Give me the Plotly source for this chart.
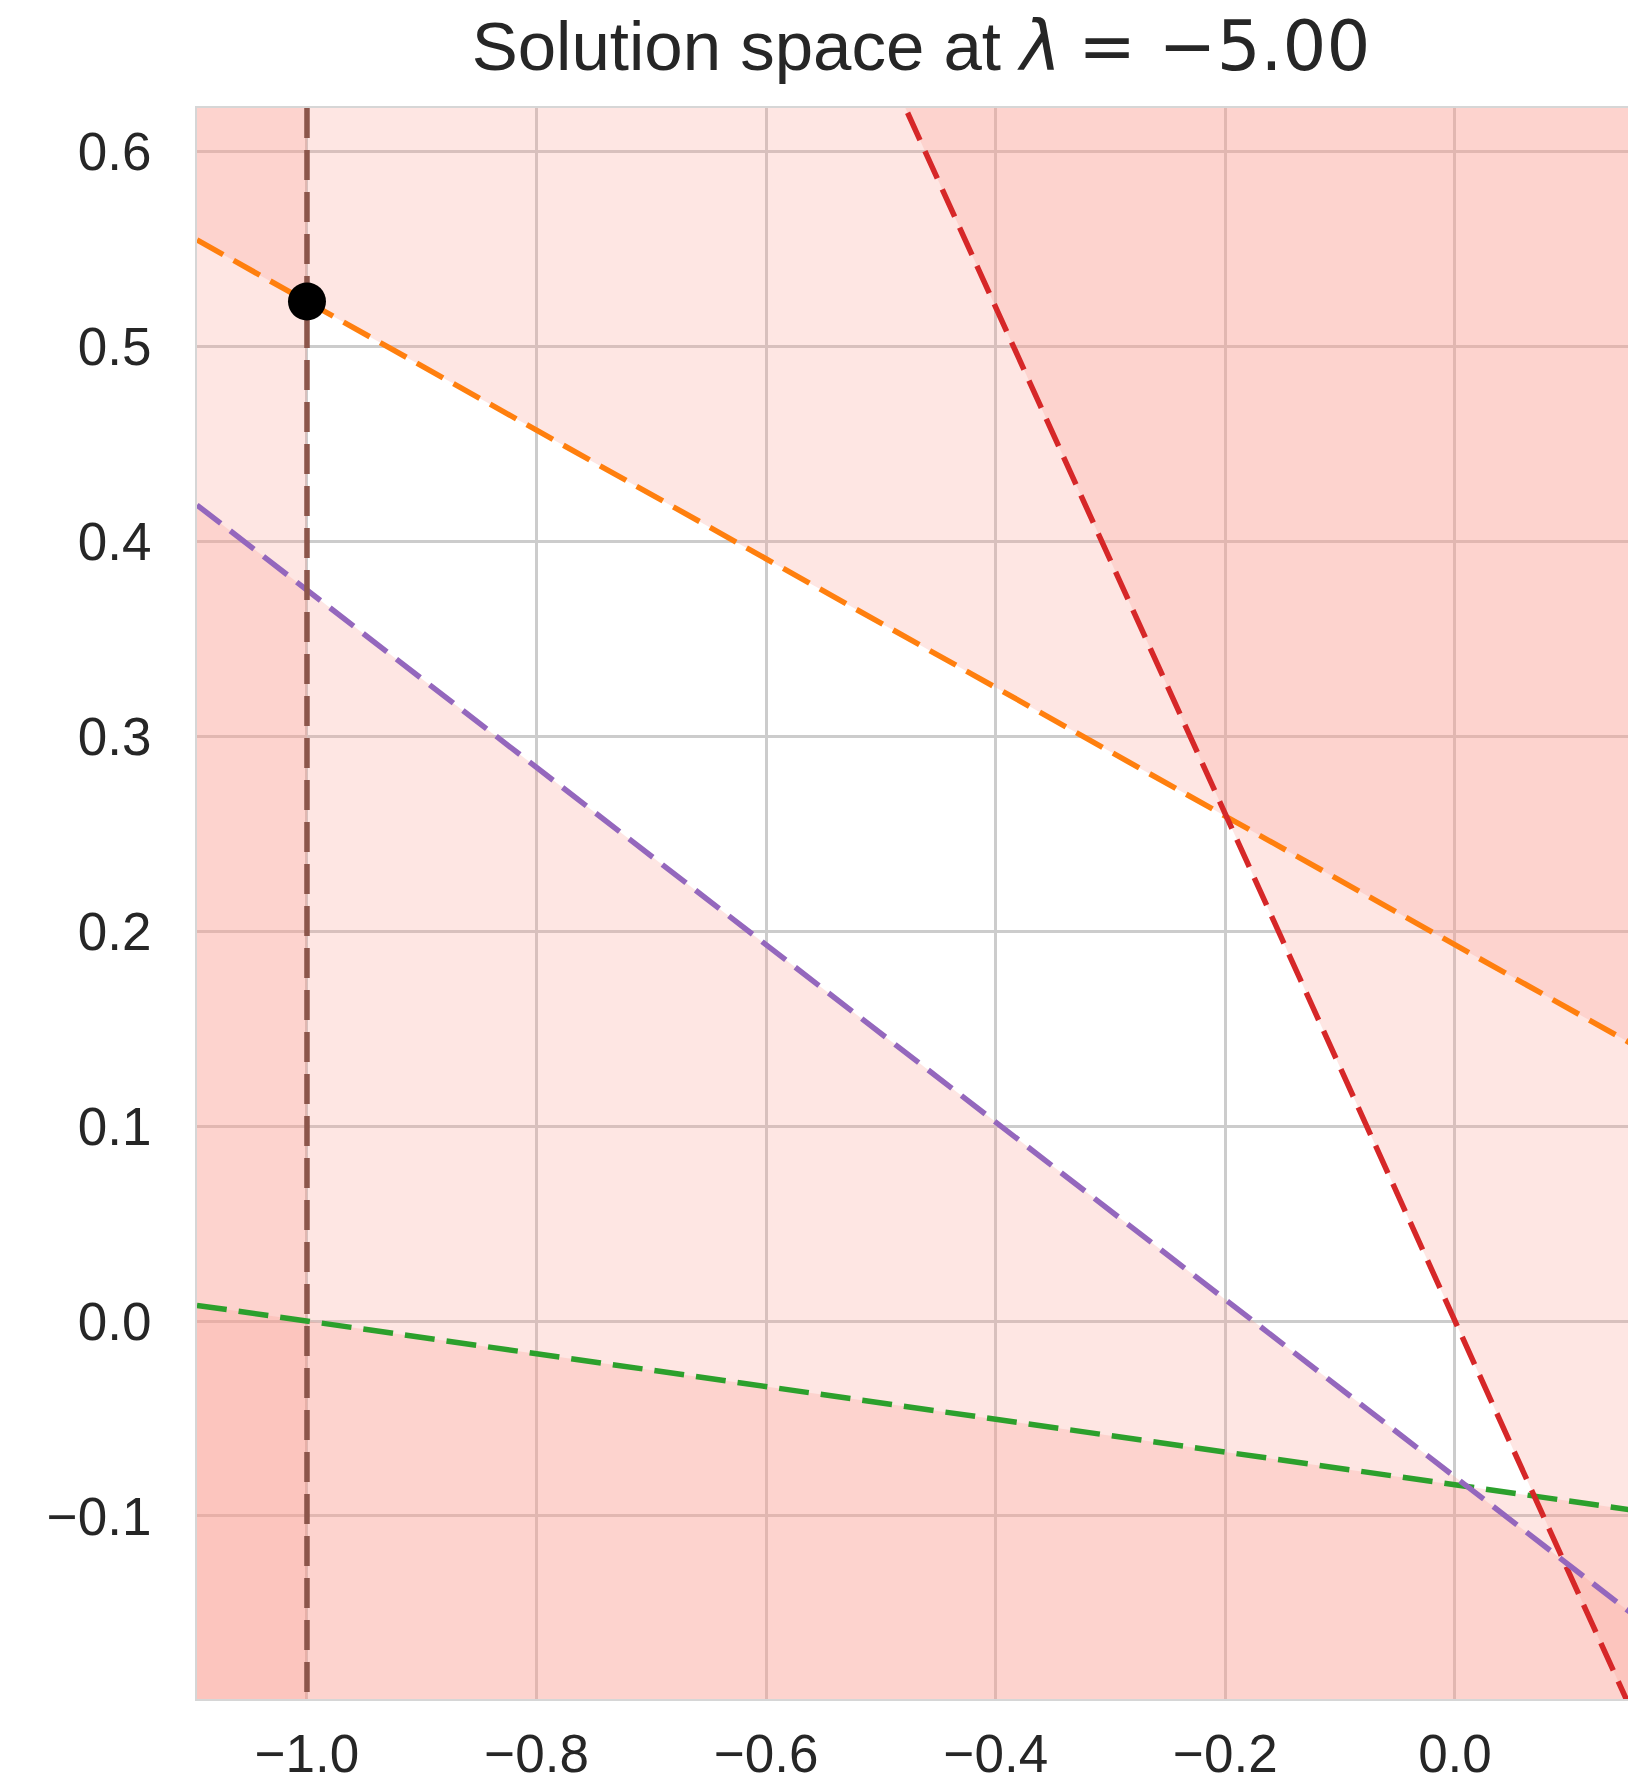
import plotly.graph_objects as go

# ---- data ----
title_text = ('Solution space at <span style="font-family:DejaVu Sans">'
              '<i>λ</i>\u2005=\u2004−5.00</span>')
x_ticks = [-1.0, -0.8, -0.6, -0.4, -0.2, 0.0]
y_ticks = [-0.1, 0.0, 0.1, 0.2, 0.3, 0.4, 0.5, 0.6]

# constraint boundary lines y = m*x + b
line_names = ["orange", "green", "red", "purple"]
line_slopes = [-0.33, -0.084, -1.30, -0.455]
line_intercepts = [0.193, -0.084, 0.0, -0.080]
line_shade_side = ["above", "below", "above", "below"]
line_colors = ["#ff7f0e", "#2ca02c", "#d62728", "#9467bd"]

# vertical constraint x = -1 (left side infeasible)
vertical_x = -1.0
vertical_color = "#8c564b"

# optimum point
point_x = [-1.0]
point_y = [0.523]

x_range = [-1.0958, 0.1507]
y_range = [-0.1939, 0.6223]

# ---- styling ----
FILL = "rgba(250,155,143,0.25)"
FAR_X = [-3.0, 2.0]
FAR_Y = [-3.0, 3.0]
DASH = "30px,12px"
LW = 5.5
FONT = "Liberation Sans, Arial, sans-serif"
TXT = "#262626"

W, H = 1628, 1782

fig = go.Figure()

# infeasible half-planes
# vertical: x < vertical_x
fig.add_trace(go.Scatter(
    x=[FAR_X[0], vertical_x, vertical_x, FAR_X[0]],
    y=[FAR_Y[0], FAR_Y[0], FAR_Y[1], FAR_Y[1]],
    fill="toself", fillcolor=FILL, mode="lines", line=dict(width=0),
    hoverinfo="skip", showlegend=False))

for m, b, side in zip(line_slopes, line_intercepts, line_shade_side):
    x0, x1 = FAR_X
    y0, y1 = m * x0 + b, m * x1 + b
    yc = FAR_Y[1] * 3 if side == "above" else FAR_Y[0] * 3
    fig.add_trace(go.Scatter(
        x=[x0, x1, x1, x0], y=[y0, y1, yc, yc],
        fill="toself", fillcolor=FILL, mode="lines", line=dict(width=0),
        hoverinfo="skip", showlegend=False))

# boundary lines (dashed)
for name, m, b, c in zip(line_names, line_slopes, line_intercepts, line_colors):
    xs = [x_range[0], x_range[1] + 0.05]
    fig.add_trace(go.Scatter(
        x=xs, y=[m * v + b for v in xs], mode="lines", name=name,
        line=dict(color=c, width=LW, dash=DASH), showlegend=False))

fig.add_trace(go.Scatter(
    x=[vertical_x, vertical_x], y=[y_range[1], y_range[0] - 0.05],
    mode="lines", line=dict(color=vertical_color, width=LW, dash=DASH),
    showlegend=False))

# optimum
fig.add_trace(go.Scatter(
    x=point_x, y=point_y, mode="markers",
    marker=dict(color="black", size=38, line=dict(width=0)),
    showlegend=False))

axis_common = dict(
    showgrid=True, gridcolor="#cccccc", gridwidth=2.5,
    zeroline=False, showline=True, linecolor="#d6d6d6", linewidth=2, mirror=True,
    ticks="", tickfont=dict(family=FONT, size=53, color=TXT),
    tickformat=".1f", automargin=False,
)

fig.update_xaxes(range=x_range, tickvals=x_ticks, ticklabelstandoff=7, **axis_common)
fig.update_yaxes(range=y_range, tickvals=y_ticks, ticklabelstandoff=33, **axis_common)

fig.update_layout(
    width=W, height=H,
    margin=dict(l=197, r=0, t=108, b=83),
    paper_bgcolor="white", plot_bgcolor="white",
    title=dict(text=title_text, x=921 / W, xref="container", xanchor="center",
               y=1 - 46 / H, yref="container", yanchor="middle",
               font=dict(family=FONT, size=69, color=TXT)),
    showlegend=False,
)

fig.write_html("out.html",
               config={"displayModeBar": False},
               post_script="document.body.style.margin='0';"
                           "document.body.style.overflow='hidden';")
